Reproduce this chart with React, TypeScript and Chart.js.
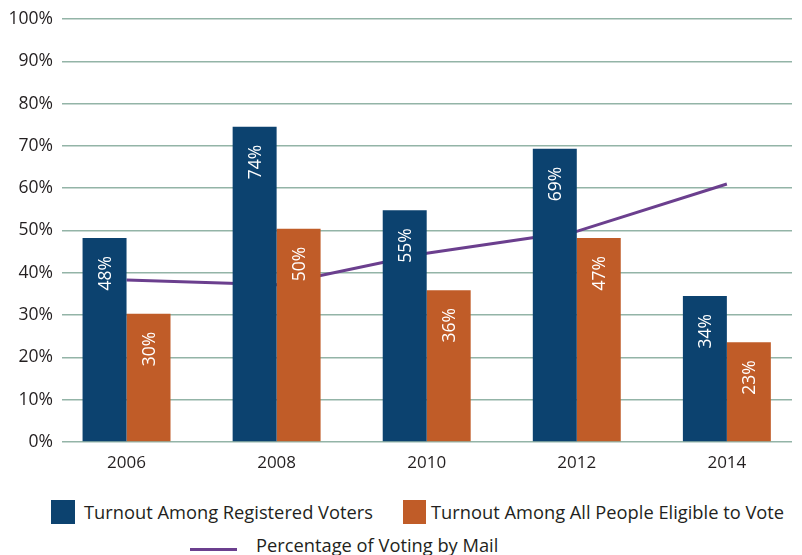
import React, { useEffect, useRef } from "react";
import { Chart, registerables } from "chart.js";

Chart.register(...registerables);

const years = ["2006", "2008", "2010", "2012", "2014"];
const registeredTurnout = [48.2, 74.5, 54.8, 69.3, 34.5];
const registeredLabels = ["48%", "74%", "55%", "69%", "34%"];
const eligibleTurnout = [30.3, 50.4, 35.9, 48.2, 23.6];
const eligibleLabels = ["30%", "50%", "36%", "47%", "23%"];
const mailVoting = [38.3, 37.2, 44.6, 49.8, 61.0];
const yTicks = [0, 10, 20, 30, 40, 50, 60, 70, 80, 90, 100];

const BLUE = "#0c426f";
const ORANGE = "#c05c28";
const PURPLE = "#6b3f8e";
const FONT = "'Open Sans', 'Noto Sans', sans-serif";

const barLabelPlugin = {
  id: "barLabels",
  afterDatasetsDraw(chart: any) {
    const ctx = chart.ctx;
    const sets: [number, string[]][] = [
      [0, registeredLabels],
      [1, eligibleLabels],
    ];
    ctx.save();
    ctx.fillStyle = "#ffffff";
    ctx.font = `17.5px ${FONT}`;
    ctx.textAlign = "right";
    ctx.textBaseline = "middle";
    for (const [di, labels] of sets) {
      const meta = chart.getDatasetMeta(di);
      meta.data.forEach((bar: any, i: number) => {
        ctx.save();
        ctx.translate(bar.x + 1, bar.y + 18);
        ctx.rotate(-Math.PI / 2);
        ctx.fillText(labels[i], 0, 0);
        ctx.restore();
      });
    }
    ctx.restore();
  },
};

export default function App() {
  const ref = useRef<HTMLCanvasElement | null>(null);

  useEffect(() => {
    if (!ref.current) return;
    const chart = new Chart(ref.current, {
      type: "bar",
      data: {
        datasets: [
          {
            type: "bar",
            label: "Turnout Among Registered Voters",
            data: registeredTurnout.map((v, i) => ({ x: i, y: v })),
            backgroundColor: BLUE,
            order: 1,
          },
          {
            type: "bar",
            label: "Turnout Among All People Eligible to Vote",
            data: eligibleTurnout.map((v, i) => ({ x: i, y: v })),
            backgroundColor: ORANGE,
            order: 1,
          },
          {
            type: "line",
            label: "Percentage of Voting by Mail",
            data: mailVoting.map((v, i) => ({ x: i, y: v })),
            borderColor: PURPLE,
            borderWidth: 3,
            pointRadius: 0,
            tension: 0,
            order: 2,
          } as any,
        ],
      },
      plugins: [barLabelPlugin],
      options: {
        animation: false,
        responsive: false,
        maintainAspectRatio: false,
        layout: { padding: { top: 11, right: 2, bottom: 0, left: 0 } },
        datasets: {
          bar: { categoryPercentage: 0.586, barPercentage: 1.0 },
        },
        plugins: {
          legend: { display: false },
          tooltip: { enabled: false },
        },
        scales: {
          x: {
            type: "linear",
            min: -0.43,
            max: 4.434,
            offset: false,
            grid: { display: false, drawTicks: false },
            border: { display: false },
            afterBuildTicks: (scale: any) => {
              scale.ticks = years.map((_, i) => ({ value: i }));
            },
            afterFit: (scale: any) => {
              scale.height = 48;
              scale.paddingLeft = 0;
              scale.paddingRight = 0;
            },
            ticks: {
              autoSkip: false,
              maxRotation: 0,
              padding: 11,
              color: "#231f20",
              font: { family: FONT, size: 17 },
              callback: (v: any) => years[v as number] ?? "",
            },
          },
          y: {
            type: "linear",
            min: 0,
            max: 100,
            afterBuildTicks: (scale: any) => {
              scale.ticks = yTicks.map((v) => ({ value: v }));
            },
            afterFit: (scale: any) => {
              scale.width = 54;
              scale.paddingTop = 0;
              scale.paddingBottom = 0;
            },
            grid: {
              color: "#93b4a7",
              lineWidth: 1.5,
              drawTicks: false,
            },
            border: { display: false },
            ticks: {
              padding: 9,
              color: "#231f20",
              font: { family: FONT, size: 17.5 },
              callback: (v: any) => `${v}%`,
            },
          },
        },
      } as any,
    });
    return () => chart.destroy();
  }, []);

  const textStyle: React.CSSProperties = {
    fontFamily: FONT,
    fontSize: 18.3,
    color: "#231f20",
    whiteSpace: "nowrap",
    lineHeight: "24px",
  };

  return (
    <div style={{ width: 786 }}>
      <canvas ref={ref} width={786} height={482} style={{ display: "block", width: 786, height: 482 }} />
      <div style={{ position: "relative", height: 65 }}>
        <div style={{ position: "absolute", left: 43, top: 10, display: "flex", alignItems: "center" }}>
          <span style={{ width: 24, height: 24, background: BLUE, display: "inline-block", marginRight: 9 }} />
          <span style={textStyle}>Turnout Among Registered Voters</span>
        </div>
        <div style={{ position: "absolute", left: 395, top: 10, display: "flex", alignItems: "center" }}>
          <span style={{ width: 23, height: 24, background: ORANGE, display: "inline-block", marginRight: 5 }} />
          <span style={textStyle}>Turnout Among All People Eligible to Vote</span>
        </div>
        <div style={{ position: "absolute", left: 182, top: 43, display: "flex", alignItems: "center" }}>
          <span style={{ width: 47, height: 3, background: PURPLE, display: "inline-block", marginRight: 19, marginTop: 8 }} />
          <span style={textStyle}>Percentage of Voting by Mail</span>
        </div>
      </div>
    </div>
  );
}
